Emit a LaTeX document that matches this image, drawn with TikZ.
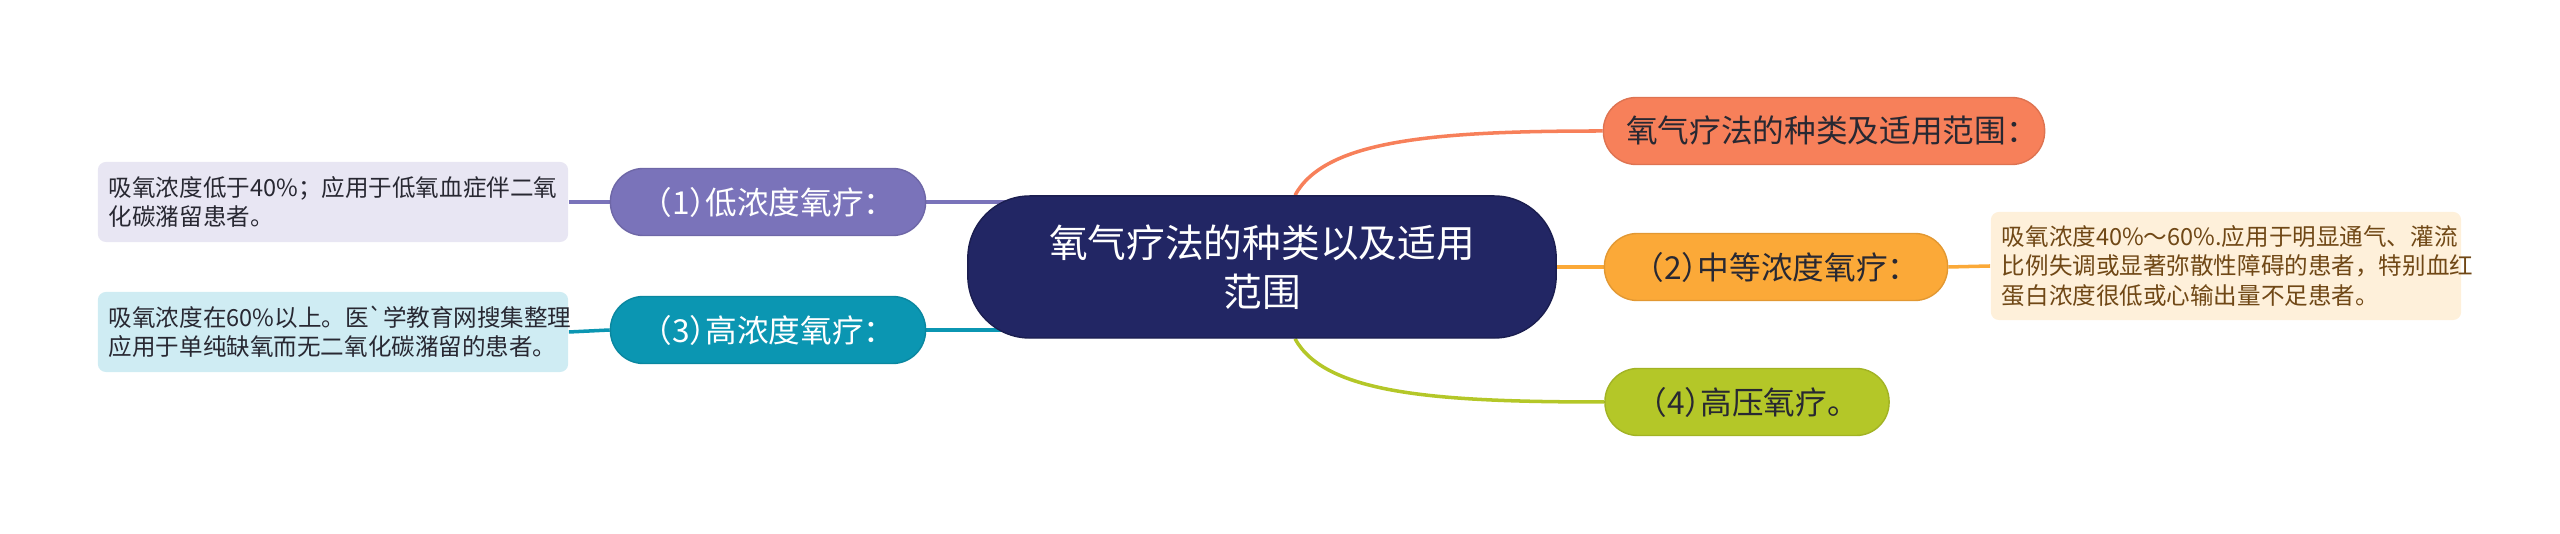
\documentclass[tikz,border=0pt]{standalone}
\usepackage{fontspec}
\setmainfont{Noto Sans CJK SC}
\newfontfamily\branchfont[RawFeature=+halt]{Noto Sans CJK SC}
\newfontfamily\plainfont{Noto Sans CJK SC}
\usepackage{tikz}
\usetikzlibrary{calc, backgrounds}
\definecolor{CentralColor}{RGB}{34,38,100}
\definecolor{RangeColor}{RGB}{247,128,90}
\definecolor{MidColor}{RGB}{251,169,56}
\definecolor{HyperColor}{RGB}{180,199,40}
\definecolor{LowColor}{RGB}{122,115,186}
\definecolor{HighColor}{RGB}{11,150,178}
\definecolor{LowLeafColor}{RGB}{232,230,243}
\definecolor{HighLeafColor}{RGB}{207,236,243}
\definecolor{MidLeafColor}{RGB}{254,240,218}
\definecolor{TextColor}{RGB}{40,40,50}
\definecolor{MidTextColor}{RGB}{112,72,22}
\tikzset{
  central/.style={fill=CentralColor, draw=CentralColor!80!black, rounded corners=0.62cm, minimum width=5.88cm, minimum height=1.42cm, text=white, align=center, font=\fontsize{11}{14}\selectfont},
  branch/.style={rounded corners=0.33cm, minimum height=0.67cm, inner xsep=0.15cm, font=\branchfont\fontsize{9}{11}\selectfont},
  leaf/.style={rounded corners=0.08cm, text width=4.48cm, align=left, inner xsep=0.11cm, font=\fontsize{6.7}{8.3}\selectfont, text=TextColor},
  conn/.style={line width=1pt}
}

\begin{document}
\begin{tikzpicture}[x=0.01cm, y=0.01cm]
                \useasboundingbox (0,0) rectangle (2560,534);

                % Central topic
                \node[central] (central) at (1262,267) {氧气疗法的种类以及适用\\范围};

                % Right branches
                \node[branch, fill=RangeColor, draw=RangeColor!90!black, minimum width=4.41cm, text=TextColor] (range) at (1824,403) {氧气疗法的种类及适用范围：};
                \node[branch, fill=MidColor, draw=MidColor!90!black, minimum width=3.43cm, text=TextColor] (mid) at (1776,267) {（2）中等浓度氧疗：};
                \node[branch, fill=HyperColor, draw=HyperColor!90!black, minimum width=2.84cm, text=TextColor] (hyper) at (1747,132) {（4）高压氧疗。};

                % Left branches
                \node[branch, fill=LowColor, draw=LowColor!90!black, minimum width=3.15cm, text=white] (low) at (768,332) {（1）低浓度氧疗：};
                \node[branch, fill=HighColor, draw=HighColor!90!black, minimum width=3.15cm, text=white] (high) at (768,204) {（3）高浓度氧疗：};

                % Leaves
                \node[leaf, fill=LowLeafColor, minimum height=0.8cm] (lowleaf) at (333,332) {吸氧浓度低于40\%；应用于低氧血症伴二氧\\化碳潴留患者。};
                \node[leaf, fill=HighLeafColor, minimum height=0.8cm] (highleaf) at (333,202) {吸氧浓度在60\%以上。医{\plainfont\symbol{96}}学教育网搜集整理\\应用于单纯缺氧而无二氧化碳潴留的患者。};
                \node[leaf, fill=MidLeafColor, minimum height=1.08cm, text=MidTextColor] (midleaf) at (2226,268) {吸氧浓度40\%～60\%.应用于明显通气、灌流\\比例失调或显著弥散性障碍的患者，特别血红\\蛋白浓度很低或心输出量不足患者。};

                % Connectors
                \begin{scope}[on background layer]
                \draw[conn, RangeColor] ($(central.north)+(33,0)$) .. controls +(30,55) and +(-170,0) .. (range.west);
                \draw[conn, HyperColor] ($(central.south)+(33,0)$) .. controls +(30,-55) and +(-170,0) .. (hyper.west);
                \draw[conn, MidColor] (central.east) -- (mid.west);
                \draw[conn, LowColor] (low.east) -- (low.east -| central.center);
                \draw[conn, HighColor] (high.east) -- (high.east -| central.center);
                \draw[conn, LowColor] (lowleaf.east) -- (low.west);
                \draw[conn, HighColor] (highleaf.east) -- (high.west);
                \draw[conn, MidColor] (mid.east) -- (midleaf.west);
                \end{scope}
            \end{tikzpicture}
\end{document}
